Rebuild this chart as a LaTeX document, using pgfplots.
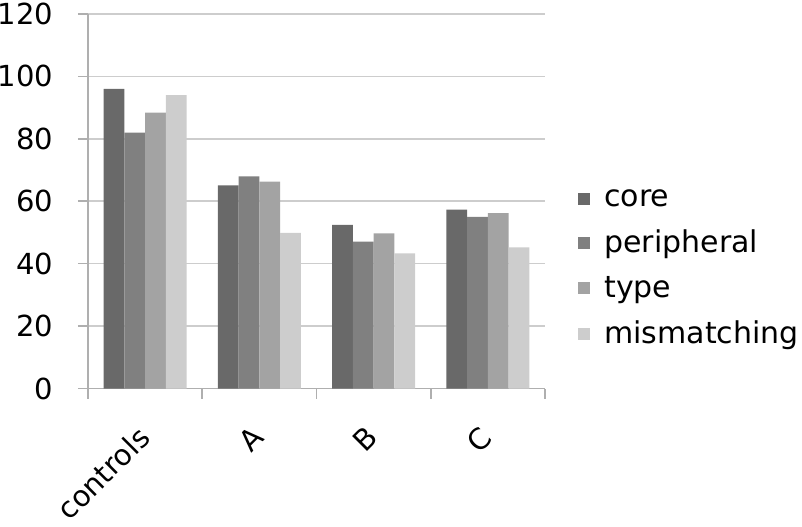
\documentclass[border=0pt]{standalone}
\usepackage{fontspec}
\setmainfont{DejaVu Sans}
\usepackage{pgfplots}
\pgfplotsset{compat=1.18}

\definecolor{ccore}{RGB}{105,105,105}
\definecolor{cperi}{RGB}{128,128,128}
\definecolor{ctype}{RGB}{163,163,163}
\definecolor{cmis}{RGB}{205,205,205}
\definecolor{gridc}{RGB}{205,205,205}
\definecolor{axisc}{RGB}{175,175,175}

\begin{document}
\begin{tikzpicture}
\begin{axis}[
  scale only axis,
  width=228.5pt, height=187.25pt,
  ybar, bar width=10.35pt,
  ymin=0, ymax=120, ytick={0,20,...,120},
  xmin=-0.5, xmax=3.5,
  xtick={0,1,2,3},
  xticklabels={controls,A,B,C},
  minor xtick={-0.5,0.5,1.5,2.5,3.5},
  major x tick style={draw=none},
  minor x tick style={draw=axisc, line width=0.8pt},
  major y tick style={draw=axisc, line width=0.8pt},
  ytick pos=left,
  minor tick length=5pt,
  major tick length=5pt,
  tick align=outside,
  ymajorgrids, grid style={gridc, line width=0.8pt},
  axis x line*=bottom, axis y line*=left,
  axis line style={axisc, line width=0.8pt, -},
  ticklabel style={font=\fontsize{14.5}{17}\selectfont},
  /pgf/number format/assume math mode=true,
  yticklabel style={xshift=-9pt},
  xticklabel style={xshift=-4.5pt, yshift=-8pt, rotate=45, anchor=north east},
  legend style={draw=none, fill=none, at={(1.0722,0.3217)}, anchor=west,
    inner sep=0pt, font=\fontsize{15}{18}\selectfont, row sep=6.3pt},
  legend cell align=left,
  legend image code/.code={\fill[#1] (0pt,-3pt) rectangle (6pt,3pt);\path (11pt,0pt);},
]
\addplot[fill=ccore, draw=none, bar shift=-15.525pt] coordinates {(0,96) (1,65.1) (2,52.4) (3,57.3)};
\addplot[fill=cperi, draw=none, bar shift=-5.175pt] coordinates {(0,82) (1,68) (2,47.1) (3,55)};
\addplot[fill=ctype, draw=none, bar shift=5.175pt] coordinates {(0,88.4) (1,66.3) (2,49.7) (3,56.2)};
\addplot[fill=cmis, draw=none, bar shift=15.525pt] coordinates {(0,94) (1,49.9) (2,43.3) (3,45.2)};
\legend{core,peripheral,type,mismatching}
\end{axis}
\pgfresetboundingbox
\path[use as bounding box] ([xshift=-44pt,yshift=-68.75pt]current axis.south west)
  rectangle ([xshift=128.5pt,yshift=7pt]current axis.north east);
\end{tikzpicture}
\end{document}
